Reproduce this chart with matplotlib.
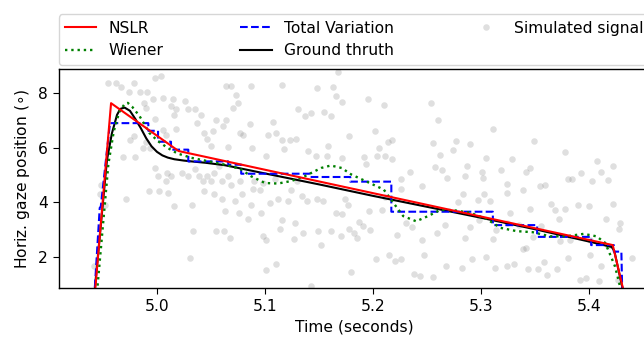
import matplotlib
matplotlib.use("Agg")
import matplotlib.pyplot as plt

# ground truth gaze (time in s, position in deg)
gt_t = [4.9410, 4.9426, 4.9537, 4.9583, 4.9630, 4.9660, 4.9700, 4.9750, 4.9800, 4.9850,
        4.9900, 4.9950, 5.0000, 5.0050, 5.0100, 5.0160, 5.0250, 5.0320, 5.0450, 5.0630,
        5.1000, 5.1500, 5.2000, 5.2500, 5.3000, 5.3500, 5.4000, 5.4210, 5.4235, 5.4310, 5.4330]
gt_v = [0.30, 0.90, 5.55, 6.53, 7.20, 7.42, 7.47, 7.35, 7.05, 6.72,
        6.35, 6.05, 5.85, 5.72, 5.64, 5.58, 5.53, 5.50, 5.45, 5.36,
        5.06, 4.66, 4.24, 3.84, 3.44, 3.02, 2.57, 2.37, 2.22, 0.87, 0.40]

nslr_t = [4.9413, 4.9575, 5.0200, 5.4220, 5.4330]
nslr_v = [0.10, 7.63, 5.88, 2.44, 0.60]

tv_t = [4.9425, 4.9470, 4.9480, 4.9565, 4.9920, 4.9920, 5.0010, 5.0010, 5.0130, 5.0130,
        5.0290, 5.0290, 5.0660, 5.0660, 5.0780, 5.0780, 5.1420, 5.1420, 5.1790, 5.1790,
        5.2170, 5.2170, 5.3110, 5.3110, 5.3520, 5.3520, 5.4020, 5.4020, 5.4230, 5.4230,
        5.4300, 5.4310]
tv_v = [0.90, 3.80, 3.85, 6.90, 6.90, 6.62, 6.62, 6.22, 6.22, 5.93,
        5.93, 5.50, 5.50, 5.38, 5.38, 5.05, 5.05, 4.93, 4.93, 4.76,
        4.76, 3.66, 3.66, 3.17, 3.17, 2.74, 2.74, 2.44, 2.44, 2.20,
        2.20, 0.30]

wiener_t = [4.9440, 4.9550, 4.9600, 4.9650, 4.9700, 4.9730, 4.9770, 4.9840, 4.9930, 5.0010,
            5.0100, 5.0190, 5.0320, 5.0470, 5.0630, 5.0770, 5.0870, 5.1000, 5.1120, 5.1240,
            5.1370, 5.1520, 5.1610, 5.1710, 5.1800, 5.1970, 5.2100, 5.2190, 5.2280, 5.2400,
            5.2510, 5.2620, 5.2740, 5.2900, 5.3050, 5.3180, 5.3330, 5.3480, 5.3640, 5.3790,
            5.3950, 5.4070, 5.4150, 5.4190, 5.4240, 5.4280, 5.4300]
wiener_v = [0.50, 5.40, 6.60, 7.30, 7.60, 7.64, 7.50, 7.15, 6.54, 6.24,
            5.99, 5.79, 5.63, 5.51, 5.38, 5.23, 4.96, 4.71, 4.69, 4.78,
            4.96, 5.26, 5.35, 5.26, 5.02, 4.71, 4.47, 3.98, 3.50, 3.31,
            3.50, 3.72, 3.72, 3.62, 3.40, 3.07, 2.95, 2.91, 2.76, 2.76,
            2.85, 2.76, 2.52, 2.15, 1.67, 1.06, 0.60]

# noisy samples
sim_t = [4.955, 4.962, 4.967, 4.979, 4.974, 4.984, 4.991, 4.998, 5.004, 4.988,
         4.990, 4.996, 4.998, 4.979, 4.975, 4.969, 4.980, 4.987, 4.994, 4.990,
         5.006, 5.008, 5.006, 5.015, 5.013, 5.018, 5.016, 5.018, 5.026, 5.029,
         5.035, 5.041, 5.037, 5.044, 5.046, 5.050, 5.052, 5.055, 5.061, 5.064,
         5.064, 5.069, 5.073, 5.070, 5.075, 5.077, 5.080, 5.086, 5.087, 5.088,
         5.107, 5.110, 5.116, 5.103, 5.101, 5.116, 5.118, 5.123, 5.129, 5.131,
         5.137, 5.143, 5.148, 5.155, 5.161, 5.163, 5.166, 5.171, 5.168, 5.178,
         5.158, 5.140, 5.147, 5.157, 5.171, 5.066, 4.998, 5.001, 5.009, 5.013,
         5.008, 5.023, 5.029, 5.035, 5.039, 5.043, 5.046, 5.050, 5.053, 5.057,
         5.060, 5.066, 5.069, 5.077, 5.090, 5.095, 5.098, 5.109, 5.124, 5.130,
         4.993, 5.002, 5.010, 5.016, 5.032, 5.044, 5.053, 5.060, 5.063, 5.072,
         5.079, 5.089, 5.087, 5.076, 5.084, 5.096, 5.105, 5.112, 5.121, 5.116,
         5.128, 5.134, 5.139, 5.148, 5.154, 5.166, 5.171, 5.174, 5.177, 4.971,
         4.952, 4.947, 4.948, 5.033, 5.055, 5.062, 5.068, 5.098, 5.101, 5.114,
         5.127, 5.135, 5.149, 5.152, 5.161, 5.170, 5.178, 5.031, 5.101, 5.110,
         4.942, 5.143, 5.180,
         5.195, 5.210, 5.254, 5.260, 5.202, 5.214, 5.218, 5.206, 5.192, 5.194,
         5.204, 5.211, 5.218, 5.226, 5.234, 5.245, 5.256, 5.262, 5.257, 5.264,
         5.269, 5.277, 5.274, 5.287, 5.285, 5.290, 5.305, 5.311, 5.301, 5.302,
         5.319, 5.329, 5.345, 5.342, 5.349, 5.378, 5.324, 5.324, 5.339, 5.355,
         5.359, 5.381, 5.384, 5.393, 5.407, 5.411, 5.403, 5.418, 5.283, 5.279,
         5.303, 5.297, 5.308, 5.327, 5.345, 5.365, 5.369, 5.378, 5.390, 5.400,
         5.422, 5.416, 5.429, 5.372, 5.226, 5.211, 5.208, 5.196, 5.187, 5.191,
         5.197, 5.182, 5.185, 5.231, 5.236, 5.222, 5.245, 5.259, 5.267, 5.285,
         5.290, 5.298, 5.314, 5.311, 5.324, 5.335, 5.342, 5.348, 5.356, 5.373,
         5.382, 5.401, 5.401, 5.411, 5.418, 5.428, 5.203, 5.215, 5.226, 5.220,
         5.238, 5.244, 5.256, 5.247, 5.268, 5.282, 5.292, 5.305, 5.313, 5.324,
         5.331, 5.339, 5.344, 5.353, 5.358, 5.361, 5.370, 5.381, 5.392, 5.397,
         5.409, 5.440, 5.427, 5.422]
sim_v = [8.37, 8.37, 8.22, 8.37, 8.03, 8.03, 8.03, 8.55, 8.64, 7.64,
         7.46, 7.79, 7.05, 6.42, 6.27, 5.67, 5.67, 5.99, 5.99, 6.20,
         6.66, 6.48, 7.82, 7.79, 7.52, 7.40, 7.21, 6.69, 7.70, 7.40,
         7.42, 7.18, 6.91, 6.54, 6.32, 6.06, 6.60, 7.03, 6.79, 7.03,
         8.25, 8.27, 7.94, 7.46, 7.64, 6.54, 6.48, 6.88, 8.25, 5.99,
         6.93, 6.54, 8.29, 6.45, 5.71, 6.30, 5.96, 6.27, 6.32, 7.40,
         7.15, 7.27, 8.19, 7.30, 7.15, 8.22, 7.88, 7.66, 8.76, 6.42,
         6.08, 5.87, 5.71, 5.69, 5.63, 6.03, 5.26, 4.96, 5.08, 4.96,
         4.78, 5.06, 4.96, 5.23, 4.96, 4.78, 4.96, 4.78, 5.06, 5.32,
         4.78, 4.96, 4.65, 4.78, 4.78, 4.47, 4.71, 4.84, 4.47, 4.78,
         4.41, 4.41, 4.35, 3.86, 3.92, 4.41, 4.29, 4.13, 3.68, 4.04,
         4.29, 4.49, 3.92, 3.62, 3.40, 3.62, 3.98, 4.11, 4.04, 3.35,
         3.23, 4.25, 4.04, 4.13, 4.04, 3.62, 3.56, 4.11, 3.92, 4.13,
         3.92, 4.29, 4.65, 2.95, 2.95, 2.95, 2.70, 2.76, 2.64, 3.03,
         2.67, 2.89, 2.95, 2.46, 2.95, 2.76, 3.01, 1.96, 1.52, 1.76,
         1.67, 0.94, 1.45,
         7.79, 7.58, 7.64, 7.03, 6.60, 6.20, 6.27, 5.99, 5.67, 5.42,
         5.71, 5.71, 5.59, 4.86, 5.10, 4.59, 6.18, 5.75, 5.30, 5.20,
         4.90, 6.24, 5.90, 5.32, 4.96, 6.12, 5.63, 6.69, 5.10, 4.90,
         5.20, 5.59, 5.26, 5.10, 6.24, 5.84, 4.69, 4.35, 4.45, 4.59,
         4.65, 4.84, 4.84, 5.08, 5.51, 5.10, 4.78, 4.81, 4.29, 4.01,
         4.29, 4.08, 4.04, 3.62, 3.76, 3.96, 3.71, 3.76, 3.89, 3.86,
         3.96, 3.40, 3.25, 3.40, 4.49, 4.20, 3.74, 3.68, 3.28, 3.13,
         2.98, 2.89, 2.70, 3.25, 3.11, 2.82, 2.64, 2.89, 3.19, 2.70,
         3.11, 3.35, 2.98, 2.67, 3.25, 3.19, 2.34, 2.74, 3.13, 2.58,
         2.64, 2.64, 2.06, 1.67, 2.40, 3.03, 1.94, 2.09, 1.94, 1.85,
         1.40, 1.30, 1.28, 2.09, 1.67, 1.61, 1.94, 2.01, 1.61, 1.69,
         1.73, 2.28, 1.57, 1.57, 1.81, 1.36, 1.57, 1.97, 1.18, 1.24,
         1.12, 1.97, 1.18, 5.32]

plt.rcParams["font.size"] = 11.2
plt.rcParams["xtick.major.size"] = 4.5
plt.rcParams["ytick.major.size"] = 4.5
plt.rcParams["axes.linewidth"] = 1.0

fig = plt.figure(figsize=(6.44, 3.37), dpi=100)
ax = fig.add_axes([59 / 644, 49 / 337, 591 / 644, 219 / 337])

p_sim, = ax.plot(sim_t, sim_v, "o", color="gray", alpha=0.25, ms=4.7, mew=0)
p_gt, = ax.plot(gt_t, gt_v, color="k", lw=1.5)
p_tv, = ax.plot(tv_t, tv_v, "--", color="b", lw=1.5)
p_w, = ax.plot(wiener_t, wiener_v, ":", color="g", lw=1.7)
p_nslr, = ax.plot(nslr_t, nslr_v, color="r", lw=1.5)

ax.legend((p_nslr, p_w, p_tv, p_gt, p_sim),
          ("NSLR", "Wiener", "Total Variation", "Ground thruth", "Simulated signal"),
          bbox_to_anchor=(0., 1.02, 1., .102), loc="lower left", ncol=3,
          mode="expand", borderaxespad=0.)

ax.set_xlim(4.9093, 5.4565)
ax.set_ylim(0.87, 8.88)
ax.set_xticks([5.0, 5.1, 5.2, 5.3, 5.4])
ax.set_yticks([2, 4, 6, 8])
ax.set_xlabel("Time (seconds)")
ax.set_ylabel(r"Horiz. gaze position ($\circ$)")

fig.savefig("out.png", dpi=100)
